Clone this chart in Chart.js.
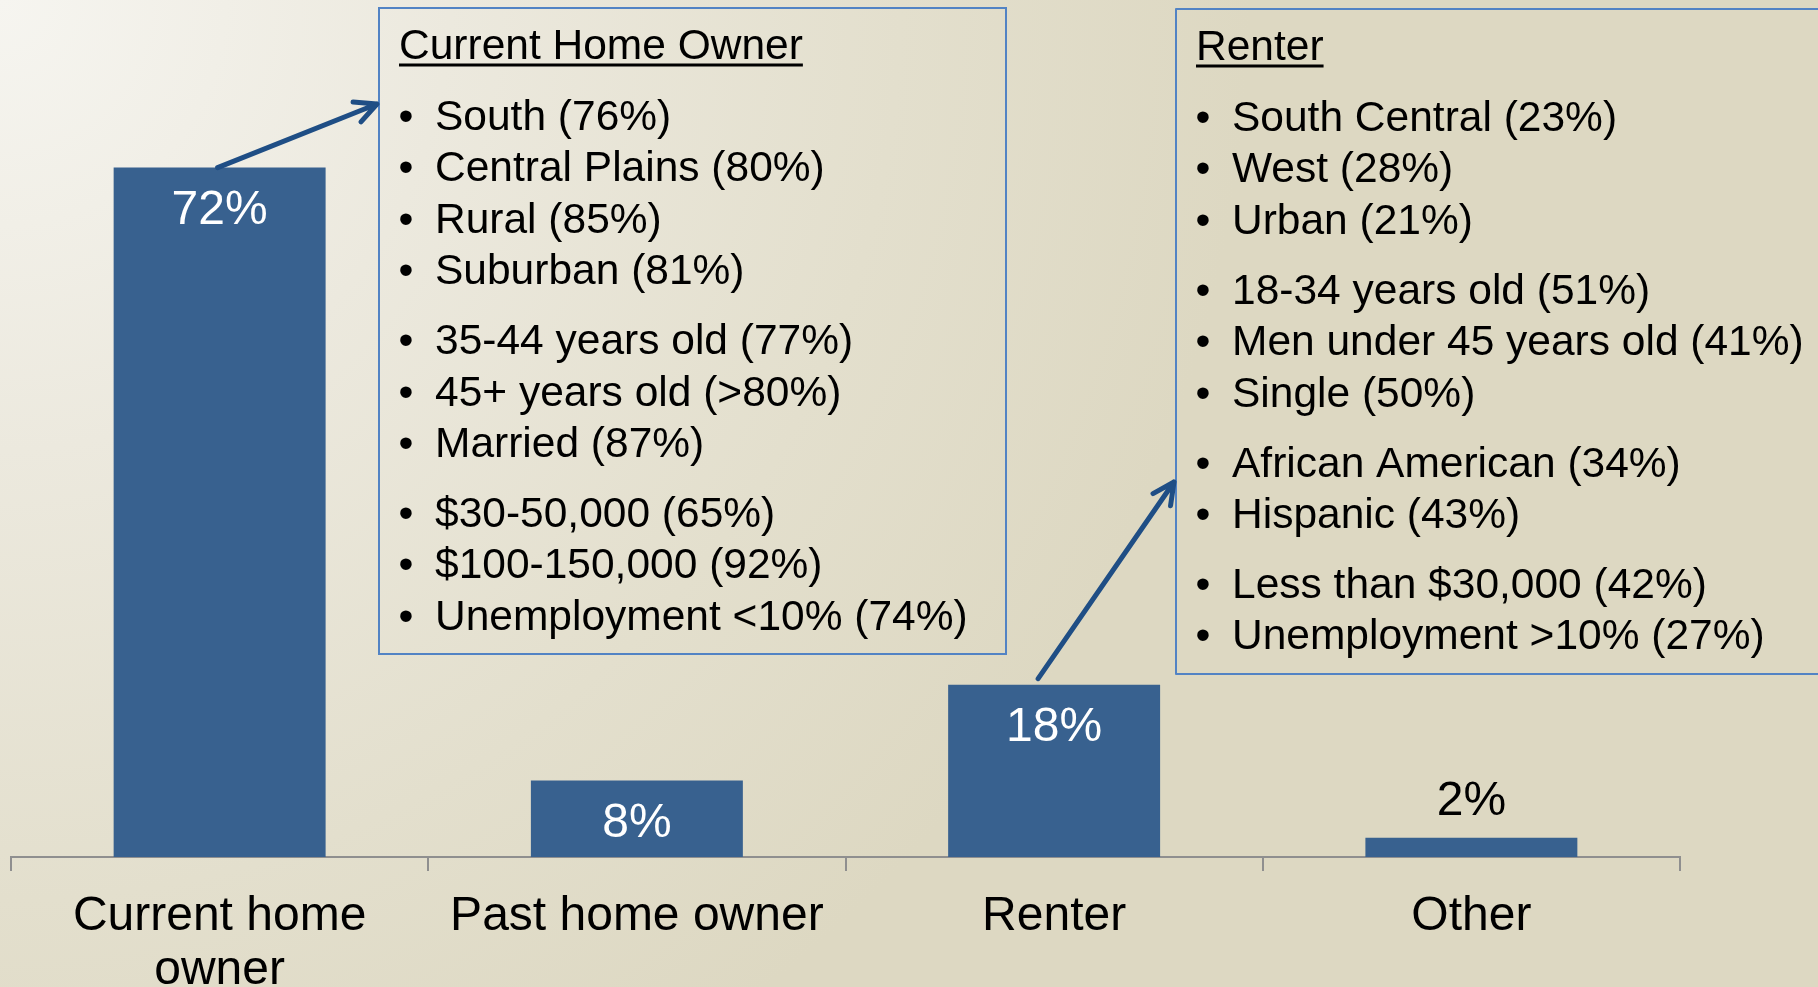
<!DOCTYPE html>
<html>
<head>
<meta charset="utf-8">
<script src="https://cdn.jsdelivr.net/npm/chart.js@4.4.1/dist/chart.umd.min.js"></script>
<style>
  html, body { margin: 0; padding: 0; overflow: hidden; }
  body {
    width: 1818px;
    height: 987px;
    background: radial-gradient(circle at 0 0, #f6f5f0 0px, #ece9de 450px, #e3dfcd 900px, #ddd8c2 1250px);
  }
  #wrap { position: relative; width: 1818px; height: 987px; }
</style>
</head>
<body>
<div id="wrap"><canvas id="chart"></canvas></div>
<script>
const categories = [["Current home", "owner"], "Past home owner", "Renter", "Other"];
const shares = [72, 8, 18, 2];

const ownerTitle = "Current Home Owner";
const ownerGroups = [
  ["South (76%)", "Central Plains (80%)", "Rural (85%)", "Suburban (81%)"],
  ["35-44 years old (77%)", "45+ years old (>80%)", "Married (87%)"],
  ["$30-50,000 (65%)", "$100-150,000 (92%)", "Unemployment <10% (74%)"]
];

const renterTitle = "Renter";
const renterGroups = [
  ["South Central (23%)", "West (28%)", "Urban (21%)"],
  ["18-34 years old (51%)", "Men under 45 years old (41%)", "Single (50%)"],
  ["African American (34%)", "Hispanic (43%)"],
  ["Less than $30,000 (42%)", "Unemployment >10% (27%)"]
];

const FONT = "'Liberation Sans', Arial, sans-serif";
const BAR_BLUE = "#38618f";
const ARROW_BLUE = "#1f4e85";
const BOX_BLUE = "#5283c4";

// callout boxes (pixel layout), each tied to a bar index
const boxes = [
  { x: 379, y: 8, w: 627, h: 646, title: ownerTitle, groups: ownerGroups,
    bar: 0, from: [-2, 0], to: [-2, 104] },
  { x: 1176, y: 9, w: 700, h: 665, title: renterTitle, groups: renterGroups,
    bar: 2, from: [-16, -6], to: [-2, 482] }
];

/*-----value labels on the bars-----*/
const valueLabels = {
  id: "valueLabels",
  afterDatasetsDraw(chart) {
    const ctx = chart.ctx;
    const meta = chart.getDatasetMeta(0);
    ctx.save();
    ctx.font = "48px " + FONT;
    ctx.textAlign = "center";
    ctx.textBaseline = "middle";
    meta.data.forEach((bar, i) => {
      const v = shares[i];
      if (v >= 5) {
        ctx.fillStyle = "#ffffff";
        ctx.fillText(v + "%", bar.x, bar.y + 43);
      } else {
        ctx.fillStyle = "#000000";
        ctx.fillText(v + "%", bar.x, bar.y - 36);
      }
    });
    ctx.restore();
  }
};

function drawArrow(ctx, x1, y1, x2, y2) {
  const ang = Math.atan2(y2 - y1, x2 - x1);
  const head = 24, spread = 0.46;
  ctx.beginPath();
  ctx.moveTo(x1, y1);
  ctx.lineTo(x2, y2);
  ctx.moveTo(x2 - head * Math.cos(ang - spread), y2 - head * Math.sin(ang - spread));
  ctx.lineTo(x2, y2);
  ctx.lineTo(x2 - head * Math.cos(ang + spread), y2 - head * Math.sin(ang + spread));
  ctx.stroke();
}

/*-----callout boxes and arrows-----*/
const callouts = {
  id: "callouts",
  afterDraw(chart) {
    const ctx = chart.ctx;
    const meta = chart.getDatasetMeta(0);
    ctx.save();
    boxes.forEach((b) => {
      ctx.strokeStyle = BOX_BLUE;
      ctx.lineWidth = 2;
      ctx.strokeRect(b.x, b.y, b.w, b.h);

      ctx.fillStyle = "#000000";
      ctx.font = "42.5px " + FONT;
      ctx.textAlign = "left";
      ctx.textBaseline = "alphabetic";
      const titleBase = b.y + 51;
      ctx.fillText(b.title, b.x + 20, titleBase);
      const tw = ctx.measureText(b.title).width;
      ctx.fillRect(b.x + 20, titleBase + 4.5, tw, 3);

      let base = b.y + 122;
      b.groups.forEach((grp, gi) => {
        if (gi > 0) base += 18.6;
        grp.forEach((line) => {
          ctx.textAlign = "center";
          ctx.fillText("\u2022", b.x + 27, base);
          ctx.textAlign = "left";
          ctx.fillText(line, b.x + 56, base);
          base += 51.4;
        });
      });

      const bar = meta.data[b.bar];
      ctx.strokeStyle = ARROW_BLUE;
      ctx.lineWidth = 5;
      ctx.lineCap = "round";
      ctx.lineJoin = "round";
      drawArrow(ctx, bar.x + b.from[0], bar.y + b.from[1], b.x + b.to[0], b.to[1]);
    });
    ctx.restore();
  }
};

new Chart(document.getElementById("chart"), {
  type: "bar",
  data: {
    labels: categories,
    datasets: [
      {
        data: shares,
        backgroundColor: BAR_BLUE,
        borderWidth: 0,
        categoryPercentage: 1,
        barPercentage: 0.508
      }
    ]
  },
  options: {
    responsive: true,
    maintainAspectRatio: false,
    animation: false,
    layout: { padding: { left: 11, right: 138, top: 0, bottom: 0 } },
    plugins: {
      legend: { display: false },
      tooltip: { enabled: false }
    },
    scales: {
      x: {
        afterFit(scale) { scale.height = 130; },
        grid: {
          display: true,
          offset: true,
          drawOnChartArea: false,
          drawTicks: true,
          tickLength: 14,
          color: "#8f8f8f",
          lineWidth: 2
        },
        border: { display: true, color: "#8f8f8f", width: 2 },
        ticks: {
          color: "#000000",
          padding: 19,
          maxRotation: 0,
          autoSkip: false,
          font: { family: FONT, size: 48, lineHeight: 1.12 }
        }
      },
      y: {
        display: false,
        min: 0,
        max: 89.5
      }
    }
  },
  plugins: [valueLabels, callouts]
});
</script>
</body>
</html>
